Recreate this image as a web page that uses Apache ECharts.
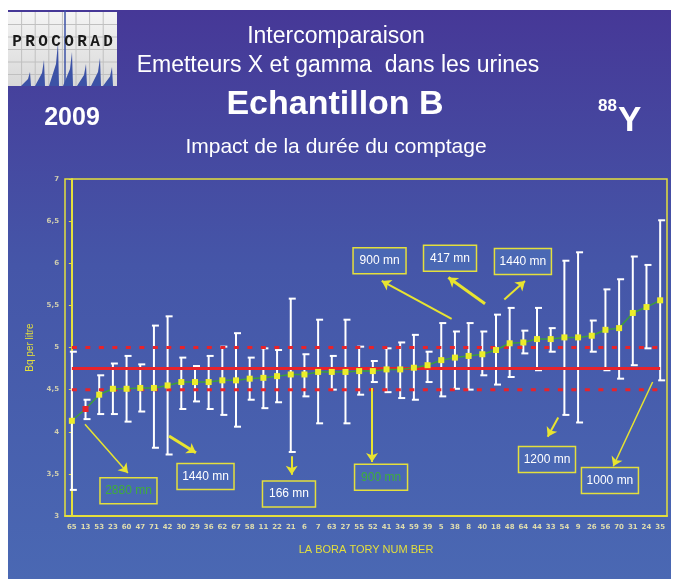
<!DOCTYPE html>
<html><head><meta charset="utf-8">
<script src="https://cdn.jsdelivr.net/npm/echarts@6/dist/echarts.min.js"></script>
<style>html,body{margin:0;padding:0;background:#fff}#c{width:677px;height:579px}</style>
</head><body><div id="c"></div>
<script>
// ---- data ----
const labs = ['65','13','53','23','60','47','71','42','30','29','36','62','67','58','11','22','21','6','7','63','27','55','52','41','34','59','39','5','38','8','40','18','48','64','44','33','54','9','26','56','70','31','24','35'];
const means = [4.13,4.27,4.44,4.51,4.51,4.52,4.52,4.55,4.59,4.59,4.59,4.61,4.61,4.63,4.64,4.66,4.68,4.68,4.71,4.71,4.71,4.72,4.72,4.74,4.74,4.76,4.79,4.85,4.88,4.90,4.92,4.97,5.05,5.06,5.10,5.10,5.12,5.12,5.14,5.21,5.23,5.41,5.48,5.56];
const highs = [4.95,4.38,4.67,4.81,4.90,4.80,5.26,5.37,4.88,4.78,4.90,5.01,5.17,4.88,4.99,4.97,5.58,4.92,5.33,4.90,5.33,5.01,4.84,4.99,5.06,5.15,4.95,5.29,5.19,5.29,5.19,5.39,5.47,5.20,5.47,5.23,6.03,6.13,5.32,5.69,5.81,6.08,5.98,6.51];
const lows  = [3.31,4.15,4.21,4.21,4.12,4.24,3.81,3.73,4.27,4.36,4.27,4.20,4.06,4.38,4.28,4.35,3.76,4.42,4.10,4.50,4.10,4.44,4.59,4.47,4.40,4.38,4.59,4.42,4.51,4.50,4.67,4.56,4.65,4.93,4.73,4.95,4.20,4.11,4.95,4.73,4.63,4.79,4.99,4.61];
const redPoints = [1];
const refMean = 4.75, refLow = 4.5, refHigh = 5.0;
const yTicks = ['3','3,5','4','4,5','5','5,5','6','6,5','7'];
// annotation boxes: text, position in data space (category index, value), text colour
const noteText = ['900 mn','417 mn','1440 mn','2880 mn','1440 mn','166 mn','900 mn','1200 mn','1000 mn'];
const noteX    = [22.49, 27.64, 32.97, 4.14, 9.77, 15.87, 22.60, 34.73, 39.33];
const noteY    = [6.03, 6.06, 6.02, 3.30, 3.47, 3.26, 3.46, 3.67, 3.42];
const noteGreen= [false,false,false,true,false,false,true,false,false];
// arrows: from (x1,y1) to (x2,y2) in data space
const arrowFrom = [[0.96,4.09],[7.10,3.95],[16.07,3.71],[21.94,4.52],[27.76,5.34],[30.20,5.52],[31.61,5.57],[35.55,4.17],[42.45,4.59]];
const arrowTo   = [[4.10,3.51],[9.07,3.75],[16.07,3.49],[21.94,3.64],[22.65,5.79],[27.52,5.83],[33.12,5.79],[34.78,3.94],[39.57,3.59]];
const arrowWidth = [1.5,3,2,2,2,3,2,2,1.5];

// ---- chart ----
const YEL = '#e4df3c';
const chart = echarts.init(document.getElementById('c'), null, {renderer:'canvas'});

const errData = labs.map((l,i)=>[i, lows[i], highs[i]]);
const lineData = means.map((v,i)=> redPoints.indexOf(i)>=0 ? {value:v, itemStyle:{color:'#e8232a'}} : v);

function logoGraphic(){
  const ch = [];
  ch.push({type:'rect', shape:{x:0,y:0,width:109,height:74}, style:{fill:new echarts.graphic.LinearGradient(0,0,0,1,[{offset:0,color:'#f4f4f4'},{offset:1,color:'#d8d8d8'}])}});
  for(let k=1;k<8;k++) ch.push({type:'line', shape:{x1:k*13.6,y1:0,x2:k*13.6,y2:74}, style:{stroke:'#c0c0c0',lineWidth:1}});
  for(let k=1;k<6;k++) ch.push({type:'line', shape:{x1:0,y1:k*12.5,x2:109,y2:k*12.5}, style:{stroke:'#c0c0c0',lineWidth:1}});
  const spikes = [[22,60],[36,48],[50,30],[64,40],[78,52],[92,46],[104,55]];
  spikes.forEach(s=>{
    ch.push({type:'polygon', shape:{points:[[s[0]-9,74],[s[0]-2,74-(74-s[1])*0.5],[s[0],s[1]],[s[0]+1,74]]}, style:{fill:'#3c52a6'}});
  });
  ch.push({type:'line', shape:{x1:57,y1:-2,x2:57,y2:74}, style:{stroke:'#3c52a6',lineWidth:1.5}});
  'PROCORAD'.split('').forEach((c,k)=>{
    ch.push({type:'text', style:{text:c, x:9+k*13, y:30, align:'center', verticalAlign:'middle', font:'bold 16px "Liberation Mono", "DejaVu Sans Mono"', fill:'#1a1a1a'}});
  });
  return {type:'group', x:8, y:12, children:ch};
}

const option = {
  animation:false,
  graphic:[
    {type:'rect', z:-10, shape:{x:8,y:10,width:663,height:569}, style:{fill:new echarts.graphic.LinearGradient(0,0,0,1,[{offset:0,color:'#463897'},{offset:0.45,color:'#4556a8'},{offset:1,color:'#4a68b3'}])}},
    logoGraphic(),
    {type:'text', x:336, y:37, style:{text:'Intercomparaison', align:'center', verticalAlign:'middle', font:'23px "Liberation Sans", Arial', fill:'#fff'}},
    {type:'text', x:338, y:66, style:{text:'Emetteurs X et gamma  dans les urines', align:'center', verticalAlign:'middle', font:'23px "Liberation Sans", Arial', fill:'#fff'}},
    {type:'text', x:335, y:105, style:{text:'Echantillon B', align:'center', verticalAlign:'middle', font:'bold 34px "Liberation Sans", Arial', fill:'#fff'}},
    {type:'text', x:336, y:147, style:{text:'Impact de la durée du comptage', align:'center', verticalAlign:'middle', font:'21px "Liberation Sans", Arial', fill:'#fff'}},
    {type:'text', x:72, y:118, style:{text:'2009', align:'center', verticalAlign:'middle', font:'bold 25px "Liberation Sans", Arial', fill:'#fff'}},
    {type:'text', x:598, y:106, style:{text:'88', align:'left', verticalAlign:'middle', font:'bold 17px "Liberation Sans", Arial', fill:'#fff'}},
    {type:'text', x:618, y:121, style:{text:'Y', align:'left', verticalAlign:'middle', font:'bold 35px "Liberation Sans", Arial', fill:'#fff'}}
  ],
  grid:{left:65, right:10, top:179, bottom:63, show:true, borderColor:YEL, borderWidth:1.5, backgroundColor:'transparent'},
  xAxis:[
    {type:'category', data:labs, boundaryGap:true,
     name:'LA BORA TORY NUM BER', nameLocation:'middle', nameGap:28,
     nameTextStyle:{color:YEL, fontSize:11, fontFamily:'"Liberation Sans", Arial'},
     axisLine:{lineStyle:{color:YEL, width:2}},
     axisTick:{inside:true, length:4, lineStyle:{color:YEL, width:1.5}},
     axisLabel:{color:'#dedcae', fontSize:7, fontWeight:'bold', interval:0, margin:8, fontFamily:'"DejaVu Sans"'},
     splitLine:{show:false}},
    {type:'value', min:-0.5, max:43.5, show:false, splitLine:{show:false}}
  ],
  yAxis:{type:'value', min:3, max:7, interval:0.5,
    name:'Bq per litre', nameLocation:'middle', nameGap:28, nameRotate:90,
    nameTextStyle:{color:YEL, fontSize:10, fontFamily:'"Liberation Sans", Arial'},
    axisLine:{show:true, lineStyle:{color:YEL, width:2}},
    axisTick:{show:true, length:3, lineStyle:{color:YEL}},
    axisLabel:{color:'#cfcdb0', fontSize:7, fontWeight:'bold', margin:6, fontFamily:'"DejaVu Sans"',
      formatter:(v)=>{ const i=Math.round((v-3)/0.5); return yTicks[i]||''; }},
    splitLine:{show:false}},
  series:[
    {type:'custom', name:'err', xAxisIndex:0, z:2, data:errData, encode:{x:0,y:[1,2]},
     renderItem:(params, api)=>{
       const lo = api.coord([api.value(0), api.value(1)]);
       const hi = api.coord([api.value(0), api.value(2)]);
       const st = {stroke:'#ffffff', lineWidth:2};
       return {type:'group', children:[
         {type:'line', shape:{x1:lo[0],y1:lo[1],x2:hi[0],y2:hi[1]}, style:st},
         {type:'line', shape:{x1:hi[0]-2,y1:hi[1],x2:hi[0]+5,y2:hi[1]}, style:st},
         {type:'line', shape:{x1:lo[0]-2,y1:lo[1],x2:lo[0]+5,y2:lo[1]}, style:st}
       ]};
     }},
    {type:'line', name:'ref', xAxisIndex:1, z:3, data:[[0,refMean],[43,refMean]], symbol:'none', lineStyle:{color:'#e8232a', width:3}, silent:true},
    {type:'line', name:'refHi', xAxisIndex:1, z:3, data:[[0,refHigh],[43,refHigh]], symbol:'none', lineStyle:{color:'#e8232a', width:3, type:[5,8.5]}, silent:true},
    {type:'line', name:'refLo', xAxisIndex:1, z:3, data:[[0,refLow],[43,refLow]], symbol:'none', lineStyle:{color:'#e8232a', width:3, type:[5,8.5]}, silent:true},
    {type:'line', name:'mean', xAxisIndex:0, z:5, data:lineData, symbol:'rect', symbolSize:6,
     itemStyle:{color:'#ecec2a'}, lineStyle:{color:'#3d9e3a', width:1.5}},
    {type:'lines', coordinateSystem:'cartesian2d', xAxisIndex:1, yAxisIndex:0, z:6,
     symbol:['none','arrow'], symbolSize:9,
     lineStyle:{color:'#e8e430', width:2, opacity:1},
     data:arrowFrom.map((f,i)=>({coords:[f, arrowTo[i]], lineStyle:{width:arrowWidth[i]}}))},
    {type:'custom', name:'notes', xAxisIndex:1, z:7, data:noteText.map((t,i)=>[noteX[i], noteY[i], i]),
     renderItem:(params, api)=>{
       const i = api.value(2);
       const p = api.coord([api.value(0), api.value(1)]);
       const txt = noteText[i];
       const w = txt.length>6 ? 57 : 53, h = 26;
       return {type:'group', children:[
         {type:'rect', shape:{x:p[0]-w/2, y:p[1]-h/2, width:w, height:h}, style:{fill:'#4a68b4', stroke:YEL, lineWidth:1.5}},
         {type:'text', style:{text:txt, x:p[0], y:p[1], align:'center', verticalAlign:'middle', font:'12px "Liberation Sans", Arial', fill: noteGreen[i] ? '#3fae3a' : '#ffffff'}}
       ]};
     }}
  ]
};
chart.setOption(option);
</script></body></html>
